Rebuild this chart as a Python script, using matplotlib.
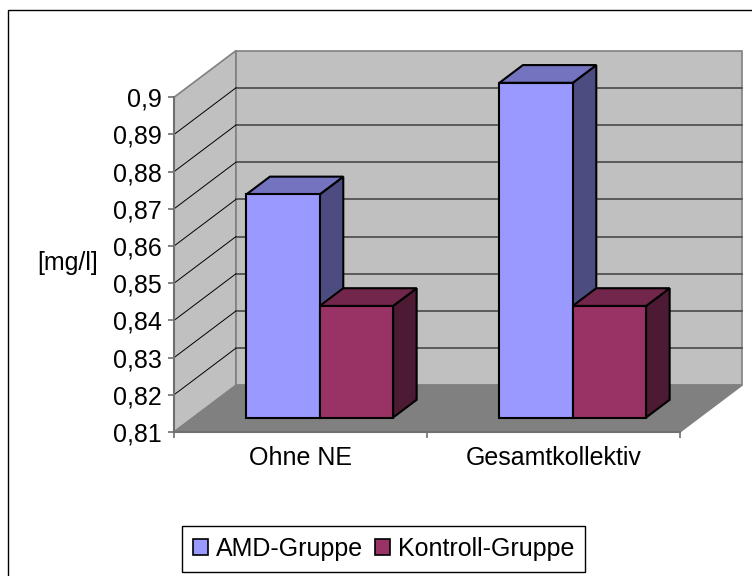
import matplotlib
matplotlib.use('Agg')
import matplotlib.pyplot as plt
from matplotlib.patches import Polygon, Patch, Rectangle
from matplotlib.lines import Line2D
from matplotlib.transforms import IdentityTransform

plt.rcParams['font.family'] = ['Liberation Sans', 'DejaVu Sans']

# data
categories = ['Ohne NE', 'Gesamtkollektiv']
series = ['AMD-Gruppe', 'Kontroll-Gruppe']
amd = [0.87, 0.90]
kontroll = [0.84, 0.84]
y_ticks = [0.81, 0.82, 0.83, 0.84, 0.85, 0.86, 0.87, 0.88, 0.89, 0.90]
y_labels = ['0,81', '0,82', '0,83', '0,84', '0,85', '0,86', '0,87', '0,88', '0,89', '0,9']

# colours (front, top, side)
amd_cols = ['#9999FF', '#7373BF', '#4C4C80']
kon_cols = ['#993366', '#73264C', '#4C1A33']

FS = 18
W, H = 752, 576
fig = plt.figure(figsize=(W / 100, H / 100), dpi=100)
ax = fig.add_axes([174 / W, 144 / H, 506 / W, 334.7 / H])
ax.set_xlim(0, 2)
ax.set_ylim(y_ticks[0], y_ticks[-1])
ax.patch.set_visible(False)

# depth of the 3d box in pixels
DX, DY = 62, 46.7
ident = IdentityTransform()


def proj(x, v, d):
    px, py = ax.transData.transform((x, v))
    return (px + d * DX, py + d * DY)


def poly(pts, fc, ec, lw, z):
    p = Polygon(pts, closed=True, facecolor=fc, edgecolor=ec, linewidth=lw,
                transform=ident, clip_on=False, zorder=z, joinstyle='miter')
    ax.add_patch(p)


def line(p0, p1, c, lw, z):
    ax.add_line(Line2D([p0[0], p1[0]], [p0[1], p1[1]], color=c, linewidth=lw,
                       transform=ident, clip_on=False, zorder=z))


lo, hi = y_ticks[0], y_ticks[-1]
nc = len(categories)

# walls and floor
poly([proj(0, lo, 0), proj(0, hi, 0), proj(0, hi, 1), proj(0, lo, 1)], '#C0C0C0', '#808080', 1.2, 1)
poly([proj(0, lo, 1), proj(nc, lo, 1), proj(nc, hi, 1), proj(0, hi, 1)], '#C0C0C0', '#808080', 1.2, 1)
poly([proj(0, lo, 0), proj(nc, lo, 0), proj(nc, lo, 1), proj(0, lo, 1)], '#808080', '#808080', 1.0, 1.2)

for v in y_ticks[1:-1]:
    line(proj(0, v, 1), proj(nc, v, 1), '#5A5A5A', 1.4, 1.5)
    line(proj(0, v, 0), proj(0, v, 1), 'black', 0.7, 1.5)

# bars
bw = 0.29
d0, d1 = 0.31, 0.69


def bar3d(x0, x1, v, cols):
    side = [proj(x1, lo, d0), proj(x1, lo, d1), proj(x1, v, d1), proj(x1, v, d0)]
    top = [proj(x0, v, d0), proj(x1, v, d0), proj(x1, v, d1), proj(x0, v, d1)]
    front = [proj(x0, lo, d0), proj(x1, lo, d0), proj(x1, v, d0), proj(x0, v, d0)]
    poly(side, cols[2], 'black', 1.5, 3)
    poly(top, cols[1], 'black', 1.5, 3)
    poly(front, cols[0], 'black', 1.5, 3)


for i in range(nc):
    c = i + 0.5
    bar3d(c - bw, c, amd[i], amd_cols)
    bar3d(c, c + bw, kontroll[i], kon_cols)

# axes
for s in ['top', 'right']:
    ax.spines[s].set_visible(False)
for s in ['left', 'bottom']:
    ax.spines[s].set_color('#707070')
    ax.spines[s].set_linewidth(1.5)
    ax.spines[s].set_zorder(2)

ax.set_yticks(y_ticks)
ax.set_yticklabels(y_labels, fontsize=FS)
ax.tick_params(axis='y', length=4, width=1.2, color='#707070', pad=5)

ax.set_xticks([i + 0.5 for i in range(nc)])
ax.set_xticklabels(categories, fontsize=FS)
ax.set_xticks(list(range(nc + 1)), minor=True)
ax.tick_params(axis='x', which='major', length=0, pad=10)
ax.tick_params(axis='x', which='minor', length=4, width=1.2, color='#707070')

ax.set_ylabel('[mg/l]', fontsize=FS, rotation=0, ha='center', va='center')
ax.yaxis.set_label_coords(-0.21, 0.505)

handles = [Patch(facecolor=amd_cols[0], edgecolor='black', linewidth=1.2),
           Patch(facecolor=kon_cols[0], edgecolor='black', linewidth=1.2)]
leg = fig.legend(handles, series, loc='center', ncol=2, fontsize=FS,
                 bbox_to_anchor=(383.5 / W, 1 - 549 / H),
                 handlelength=0.6, handleheight=0.6, handletextpad=0.3,
                 columnspacing=0.5, borderpad=0.45, borderaxespad=0,
                 fancybox=False, framealpha=1)
leg.get_frame().set_edgecolor('black')
leg.get_frame().set_linewidth(1.0)

# chart area border (runs off the right and bottom of the picture)
fig.add_artist(Rectangle((8 / W, -0.1), 1.2, 1 - 10 / H + 0.1, transform=fig.transFigure,
                         fill=False, edgecolor='black', linewidth=1.0))

fig.savefig('out.png', dpi=100)
